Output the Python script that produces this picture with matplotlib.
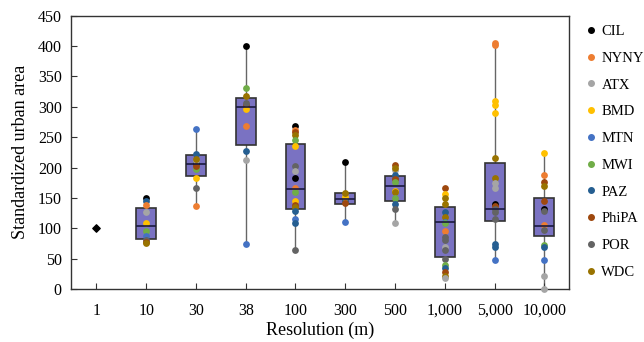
import matplotlib.pyplot as plt

plt.rcParams['font.family'] = ['Liberation Serif', 'DejaVu Serif']

resolutions = ['1', '10', '30', '38', '100', '300', '500', '1,000', '5,000', '10,000']
cities = ['CIL', 'NYNY', 'ATX', 'BMD', 'MTN', 'MWI', 'PAZ', 'PhiPA', 'POR', 'WDC']
city_colors = ['#000000', '#ED7D31', '#A5A5A5', '#FFC000', '#4472C4',
               '#70AD47', '#255E91', '#9E480E', '#636363', '#997300']

# points per resolution: (city, standardized urban area)
p10 = [('CIL', 150), ('PAZ', 145), ('NYNY', 138), ('ATX', 127), ('BMD', 109),
       ('MWI', 96), ('MTN', 88), ('POR', 81), ('PhiPA', 78), ('WDC', 75)]
p30 = [('MTN', 264), ('PAZ', 223), ('CIL', 208), ('ATX', 210), ('WDC', 214),
       ('MWI', 198), ('PhiPA', 202), ('BMD', 182), ('POR', 166), ('NYNY', 137)]
p38 = [('CIL', 400), ('MWI', 331), ('PhiPA', 303), ('WDC', 317), ('POR', 306),
       ('BMD', 296), ('NYNY', 268), ('PAZ', 227), ('ATX', 212), ('MTN', 74)]
p100 = [('CIL', 268), ('NYNY', 262), ('PhiPA', 258), ('WDC', 253), ('MWI', 245),
        ('BMD', 236), ('POR', 202), ('ATX', 194), ('CIL', 182), ('NYNY', 167),
        ('MWI', 159), ('BMD', 145), ('PhiPA', 139), ('WDC', 135), ('PAZ', 128),
        ('MTN', 116), ('PAZ', 108), ('POR', 65)]
p300 = [('CIL', 209), ('NYNY', 150), ('ATX', 152), ('MWI', 148), ('POR', 146),
        ('PAZ', 145), ('BMD', 151), ('WDC', 158), ('PhiPA', 141), ('MTN', 111)]
p500 = [('PhiPA', 204), ('ATX', 196), ('WDC', 200), ('POR', 182), ('PAZ', 187),
        ('PhiPA', 181), ('MWI', 176), ('BMD', 162), ('WDC', 159), ('MWI', 150),
        ('PAZ', 140), ('POR', 131), ('ATX', 109)]
p1000 = [('PhiPA', 166), ('BMD', 156), ('WDC', 150), ('WDC', 140), ('PAZ', 127),
         ('WDC', 119), ('MTN', 111), ('MWI', 108), ('NYNY', 95), ('POR', 85),
         ('POR', 80), ('ATX', 69), ('POR', 64), ('POR', 50), ('MWI', 39),
         ('PAZ', 34), ('PhiPA', 28), ('WDC', 21), ('ATX', 18)]
p5000 = [('NYNY', 405), ('NYNY', 401), ('BMD', 310), ('BMD', 303), ('BMD', 289),
         ('WDC', 216), ('WDC', 182), ('ATX', 175), ('ATX', 166), ('CIL', 140),
         ('PhiPA', 136), ('POR', 132), ('POR', 126), ('POR', 115), ('PAZ', 74),
         ('PAZ', 69), ('MTN', 47)]
p10000 = [('BMD', 224), ('NYNY', 188), ('PhiPA', 177), ('WDC', 169), ('PhiPA', 145),
          ('CIL', 131), ('POR', 128), ('NYNY', 106), ('POR', 97), ('MWI', 72),
          ('PAZ', 69), ('MTN', 47), ('ATX', 22), ('ATX', 0)]
points = [p10, p30, p38, p100, p300, p500, p1000, p5000, p10000]

# box statistics for resolutions 10 .. 10,000
box_q1 = [81.5, 186, 237, 132, 140, 145, 53, 112, 88]
box_med = [103, 206, 300, 164, 148, 170, 110, 132, 104]
box_q3 = [134, 220, 315, 238, 158, 186, 135, 207, 150]
whis_lo = [75, 137, 74, 65, 111, 109, 18, 47, 0]
whis_hi = [150, 264, 400, 268, 209, 204, 166, 405, 224]

base_value = 100  # resolution 1 is the reference

fig = plt.figure(figsize=(6.44, 3.42), dpi=100)
ax = fig.add_axes([0.111, 0.155, 0.773, 0.799])

stats = []
for i in range(len(box_q1)):
    stats.append(dict(med=box_med[i], q1=box_q1[i], q3=box_q3[i],
                      whislo=whis_lo[i], whishi=whis_hi[i], fliers=[]))
ax.bxp(stats, positions=range(1, len(resolutions)), widths=0.4, patch_artist=True,
       showcaps=False,
       boxprops=dict(facecolor='#7A72C2', edgecolor='#333333', linewidth=1.2, zorder=2),
       medianprops=dict(color='#1a1a40', linewidth=1.2, zorder=4),
       whiskerprops=dict(color='#666666', linewidth=1.0, zorder=1))

color_of = dict(zip(cities, city_colors))
for i, pts in enumerate(points):
    xpos = i + 1
    for c, v in pts:
        ax.scatter(xpos, v, s=24, color=color_of[c], zorder=3, clip_on=False,
                   linewidths=0)

ax.scatter(0, base_value, marker='D', s=14, color='black', zorder=3)

ax.set_xlim(-0.5, len(resolutions) - 0.5)
ax.set_ylim(0, 450)
ax.set_yticks(range(0, 451, 50))
ax.set_xticks(range(len(resolutions)))
ax.set_xticklabels(resolutions)
ax.tick_params(direction='in', labelsize=11.5, length=4, color='#333333')
ax.tick_params(axis='x', pad=10)
ax.tick_params(axis='y', pad=7)
for s in ax.spines.values():
    s.set_color('#333333')
    s.set_linewidth(1.0)

ax.set_xlabel('Resolution (m)', fontsize=13, labelpad=2)
ax.set_ylabel('Standardized urban area', fontsize=13, labelpad=6)

handles = [plt.Line2D([], [], marker='o', linestyle='', color=c, markersize=4)
           for c in city_colors]
ax.legend(handles, cities, loc='upper left', bbox_to_anchor=(1.0, 1.015),
          frameon=False, fontsize=10.5, labelspacing=0.93, handletextpad=0.1,
          handlelength=1.2, borderaxespad=0.5)

fig.savefig('out.png', dpi=100)
